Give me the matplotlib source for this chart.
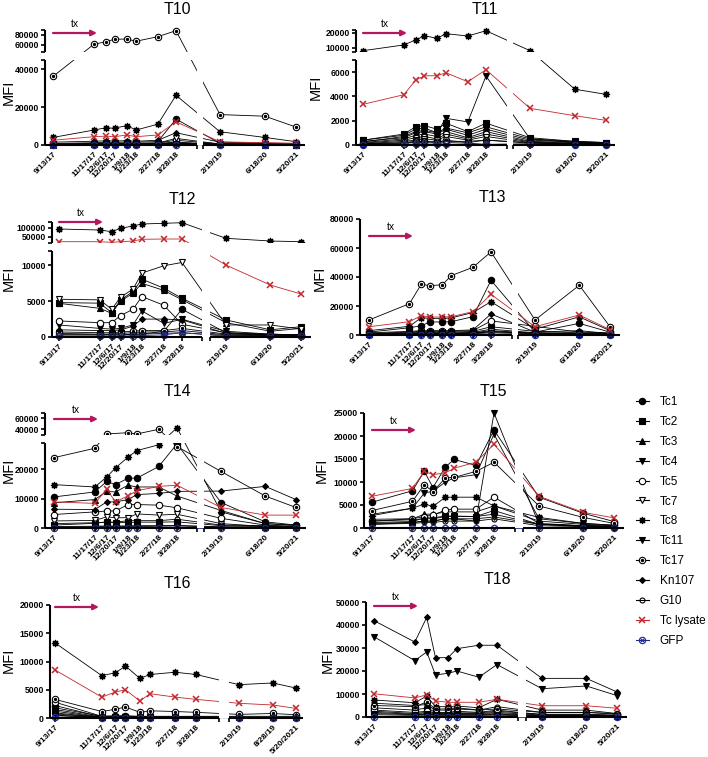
import numpy as np
import pandas as pd
import matplotlib
matplotlib.use('Agg')
import matplotlib.pyplot as plt
from matplotlib.lines import Line2D
from matplotlib.legend_handler import HandlerTuple

plt.rcParams['font.family'] = ['Liberation Sans', 'DejaVu Sans']

# sampling dates (x axis) and the tick labels
dates = ['9/13/17', '11/17/17', '12/6/17', '12/20/17', '1/9/18', '1/23/18',
         '2/27/18', '3/28/18', '2/19/19', '6/18/20', '5/20/21']
t16_labels = ['9/13/17', '11/17/17', '12/6/17', '12/20/17', '1/9/18', '1/23/18',
              '2/27/18', '3/28/18', '2/19/19', '8/28/19', '5/20/2021']

series = ['Tc1', 'Tc2', 'Tc3', 'Tc4', 'Tc5', 'Tc7', 'Tc8', 'Tc11', 'Tc17',
          'Kn107', 'G10', 'Tc lysate', 'GFP']

# MFI per series (rows in the order of `series`), one table per patient
t10 = [
    [800, 1200, 1500, 1400, 1600, 1500, 1800, 13700, 900, 700, 500],
    [300, 600, 700, 700, 800, 700, 900, 1500, 400, 300, 200],
    [200, 400, 500, 500, 500, 500, 600, 1200, 300, 200, 150],
    [150, 300, 400, 400, 400, 400, 500, 900, 250, 200, 150],
    [500, 800, 900, 900, 1000, 900, 1100, 2500, 600, 500, 400],
    [400, 700, 800, 800, 900, 800, 1000, 3500, 500, 400, 300],
    [4000, 7900, 9100, 8900, 10300, 7900, 11000, 26300, 7000, 4000, 1750],
    [100, 200, 300, 300, 300, 300, 400, 700, 200, 150, 100],
    [36300, 60700, 66000, 71000, 71600, 66900, 76300, 88600, 16100, 15250, 9500],
    [1500, 2000, 2200, 2100, 2300, 2000, 2500, 6500, 1500, 1000, 800],
    [300, 400, 500, 500, 500, 500, 600, 1000, 300, 200, 200],
    [2500, 4400, 4700, 4400, 5300, 4400, 5300, 12300, 1700, 1200, 900],
    [100, 100, 150, 150, 150, 150, 150, 200, 100, 100, 100],
]
t11 = [
    [100, 150, 200, 200, 150, 200, 150, 50, 100, 100, 100],
    [400, 900, 1500, 1600, 1300, 1800, 1100, 1800, 600, 300, 200],
    [300, 600, 1000, 1100, 900, 1300, 800, 1300, 400, 250, 150],
    [200, 500, 800, 900, 700, 1100, 600, 1100, 300, 200, 100],
    [150, 400, 600, 700, 500, 900, 500, 900, 250, 150, 100],
    [100, 300, 400, 500, 400, 700, 400, 700, 200, 100, 100],
    [7900, 11800, 15200, 18100, 16300, 19500, 17900, 21500, 7900, 4590, 4170],
    [400, 800, 1300, 1400, 1000, 2200, 1900, 5680, 500, 200, 150],
    [50, 100, 300, 300, 200, 400, 200, 400, 150, 100, 50],
    [250, 700, 1100, 1200, 1000, 1400, 1000, 1500, 500, 300, 200],
    [100, 200, 300, 300, 300, 300, 300, 400, 200, 100, 100],
    [3350, 4140, 5350, 5700, 5700, 5950, 5210, 6200, 3020, 2410, 2030],
    [30, 50, 50, 50, 50, 50, 50, 50, 50, 30, 30],
]
t12 = [
    [300, 300, 300, 300, 400, 400, 800, 3870, 600, 400, 300],
    [4800, 4720, 3400, 5180, 6340, 8070, 6810, 5410, 2380, 1000, 1440],
    [4700, 4000, 3300, 5000, 6100, 7500, 6500, 5200, 2000, 800, 1200],
    [1680, 1200, 1100, 1200, 1700, 3640, 1900, 2470, 800, 400, 300],
    [2240, 2000, 2000, 2980, 3870, 5640, 4430, 1770, 600, 300, 300],
    [5270, 5180, 3870, 5560, 6680, 8920, 9940, 10400, 1680, 1680, 1100],
    [94000, 88100, 78200, 98100, 111600, 123300, 127400, 130900, 39500, 23700, 19600],
    [500, 400, 400, 500, 600, 700, 700, 900, 300, 200, 200],
    [700, 600, 600, 700, 800, 900, 900, 1200, 400, 300, 200],
    [1000, 900, 900, 1000, 1500, 2500, 2500, 2400, 500, 300, 300],
    [300, 300, 300, 300, 400, 400, 500, 600, 200, 200, 100],
    [19600, 19600, 16100, 19600, 23700, 33700, 35400, 35400, 10040, 7250, 6000],
    [100, 100, 100, 100, 200, 200, 300, 600, 100, 100, 100],
]
t13 = [
    [2000, 5000, 6400, 9000, 9000, 9200, 12600, 37700, 2000, 8000, 2000],
    [800, 1500, 1800, 1800, 1800, 1800, 2500, 5700, 2500, 1500, 1000],
    [500, 1000, 1200, 1200, 1200, 1200, 1800, 4000, 1500, 1000, 800],
    [400, 800, 1000, 1000, 1000, 1000, 1500, 3000, 1200, 800, 600],
    [1000, 2000, 2500, 2500, 2500, 2500, 3000, 9700, 6000, 2000, 1500],
    [300, 600, 800, 800, 800, 800, 1200, 2500, 1000, 600, 400],
    [3000, 6000, 12000, 11500, 11500, 11800, 15500, 23000, 4000, 12500, 3000],
    [200, 400, 500, 500, 500, 500, 800, 1500, 800, 400, 300],
    [10350, 21600, 35000, 34000, 34700, 40900, 46700, 57300, 10350, 34300, 5700],
    [1500, 2500, 3000, 3000, 3000, 3000, 3500, 14500, 2000, 3000, 1000],
    [600, 1000, 1200, 1200, 1200, 1200, 1500, 2000, 1500, 800, 500],
    [5700, 9200, 13300, 12400, 12400, 12600, 16100, 28000, 5700, 13800, 3700],
    [100, 200, 200, 200, 200, 200, 300, 400, 300, 200, 100],
]
t14 = [
    [10600, 12300, 15900, 14800, 17000, 17000, 21000, 28700, 8700, 2100, 1000],
    [1000, 1600, 2100, 1800, 1900, 2000, 2000, 2100, 800, 500, 400],
    [8600, 9700, 12500, 12300, 14600, 14000, 14000, 10900, 6000, 1500, 800],
    [300, 400, 500, 500, 500, 500, 600, 700, 300, 200, 200],
    [4600, 5500, 5800, 5800, 8000, 8000, 7800, 6900, 3300, 1000, 500],
    [2400, 2600, 3800, 3500, 3500, 4800, 4400, 4700, 1500, 500, 300],
    [14800, 14000, 17400, 20500, 24200, 26400, 28400, 42600, 5500, 1500, 1000],
    [500, 600, 700, 700, 700, 800, 800, 900, 400, 300, 200],
    [24000, 27200, 31000, np.nan, 33300, 31000, 39600, 27800, 19300, 10900, 7000],
    [6400, 6300, 8900, 8900, 9700, 11400, 11800, 12500, 12600, 14200, 9700],
    [1500, 1800, 2000, 2000, 2500, 2500, 2500, 3000, 1000, 800, 500],
    [8900, 8400, 13200, 8900, 11000, 12700, 14200, 14600, 7000, 4400, 4400],
    [100, 100, 100, 100, 100, 100, 100, 100, 100, 100, 100],
]
t15 = [
    [5600, 8100, 12300, 8800, 13300, 14900, 13600, 21300, 6700, 3200, 1400],
    [1200, 1400, 2200, 2200, 2600, 2600, 2500, 3800, 800, 500, 400],
    [1900, 2000, 3000, 3000, 3500, 3500, 3500, 4800, 1500, 800, 500],
    [3000, 4300, 7600, 8000, 10000, 10900, 11600, 20400, 2000, 1000, 600],
    [1500, 2000, 2500, 2800, 3900, 4100, 4100, 6700, 1000, 500, 300],
    [1000, 1200, 1500, 1500, 2000, 2000, 2000, 2400, 800, 400, 300],
    [2700, 4300, 5200, 4700, 6700, 6700, 6700, 4800, 2300, 1000, 600],
    [800, 1200, 1500, 1500, 2000, 2000, 1500, 25000, 800, 400, 300],
    [3800, 5800, 9400, 7900, 10900, 11000, 12300, 14300, 4800, 2300, 1000],
    [1500, 1800, 2000, 2000, 2500, 2500, 2500, 3000, 800, 500, 400],
    [800, 1000, 1200, 1200, 1500, 1500, 1500, 2000, 500, 300, 200],
    [6900, 8600, 12300, 11600, 12000, 13000, 14300, 18200, 6900, 3400, 2200],
    [50, 50, 50, 50, 50, 50, 50, 50, 50, 50, 50],
]
t16 = [
    [2200, 200, 200, 200, 150, 150, 150, 150, 100, 100, 100],
    [1500, 150, 150, 150, 100, 100, 100, 100, 100, 100, 100],
    [1200, 100, 100, 100, 100, 100, 100, 100, 100, 100, 100],
    [900, 100, 100, 100, 100, 100, 100, 100, 80, 80, 80],
    [2800, 300, 300, 300, 250, 250, 250, 250, 200, 200, 200],
    [700, 150, 150, 150, 100, 100, 100, 100, 100, 100, 100],
    [13300, 7500, 8000, 9200, 7000, 7700, 8100, 7700, 5900, 6200, 5300],
    [500, 100, 100, 100, 80, 80, 80, 80, 80, 80, 80],
    [3300, 1150, 1550, 1950, 1000, 1270, 1150, 1000, 640, 800, 580],
    [1800, 300, 400, 400, 300, 300, 300, 300, 300, 300, 300],
    [400, 100, 100, 100, 100, 100, 100, 100, 100, 100, 100],
    [8500, 3700, 4600, 5000, 3000, 4300, 3700, 3300, 2600, 2300, 1700],
    [100, 50, 50, 50, 50, 50, 50, 50, 50, 50, 50],
]
t18 = [
    [4000, 3000, 4000, 2000, 2000, 2500, 2000, 3000, 1000, 1000, 700],
    [2500, 1500, 2000, 1500, 1500, 1500, 1500, 2000, 800, 800, 500],
    [2000, 1200, 1500, 1200, 1200, 1200, 1200, 1500, 600, 600, 400],
    [34900, 24500, 28300, 18300, 19000, 20000, 17300, 22800, 12300, 13500, 9300],
    [3000, 2000, 2500, 1800, 1800, 1800, 1800, 2500, 1200, 1200, 800],
    [1500, 1000, 1200, 1000, 1000, 1000, 1000, 1200, 500, 500, 400],
    [7400, 6200, 9100, 4500, 4500, 4800, 4000, 7700, 3000, 3000, 1500],
    [1000, 700, 800, 700, 700, 700, 700, 800, 400, 400, 300],
    [5000, 4500, 6500, 3500, 3500, 4000, 3000, 3500, 2000, 2000, 1200],
    [41900, 32600, 43300, 25800, 25800, 29700, 31200, 31200, 16800, 16800, 10900],
    [6000, 5000, 5400, 3000, 3000, 3500, 3000, 4500, 2000, 2000, 1500],
    [10100, 8300, 9600, 7000, 6400, 6400, 6400, 7700, 4900, 4900, 3800],
    [100, 100, 100, 100, 100, 100, 100, 100, 100, 100, 100],
]

W, H = 708, 757
RED = '#c1272d'
BLUE = '#1f2c8f'
ARROW = '#b3185e'

days = (pd.to_datetime(dates, format='%m/%d/%y') - pd.Timestamp('2017-09-13')).days.values.astype(float)

# marker style of each series
styles = {
    'Tc1': dict(marker='o', mfc='k', ms=4.6),
    'Tc2': dict(marker='s', mfc='k', ms=4.2),
    'Tc3': dict(marker='^', mfc='k', ms=4.6),
    'Tc4': dict(marker='v', mfc='k', ms=4.6),
    'Tc5': dict(marker='o', mfc='w', ms=4.6),
    'Tc7': dict(marker='v', mfc='w', ms=4.8),
    'Tc8': dict(marker=(8, 1, 0), mfc='k', ms=5),
    'Tc11': dict(marker='v', mfc='k', ms=4),
    'Tc17': dict(marker='o', mfc='w', ms=4.6),
    'Kn107': dict(marker='D', mfc='k', ms=3),
    'G10': dict(marker='o', mfc='none', ms=3.6),
    'Tc lysate': dict(marker='x', mfc=RED, ms=4.6, mew=1.1),
    'GFP': dict(marker='o', mfc='none', ms=4.6),
}


def color_of(name):
    if name == 'Tc lysate':
        return RED
    if name == 'GFP':
        return BLUE
    return 'k'


def piecewise(xp, fp):
    xp = np.asarray(xp, dtype=float)
    fp = np.asarray(fp, dtype=float)

    def f(v):
        v = np.asarray(v, dtype=float)
        out = np.interp(v, xp, fp)
        lo = fp[0] + (v - xp[0]) * (fp[1] - fp[0]) / (xp[1] - xp[0])
        hi = fp[-1] + (v - xp[-1]) * (fp[-1] - fp[-2]) / (xp[-1] - xp[-2])
        out = np.where(v < xp[0], lo, out)
        out = np.where(v > xp[-1], hi, out)
        return out
    return f


def draw_panel(fig, title, values, lay, xlabels):
    # x geometry in pixels: y axis, first date, 3/28/18, left end, right start, 2/19/19, 5/20/21, right end
    P0, first, m28, PL, PR, feb, may, PE = lay['x']
    bottom, top = lay['bottom'], lay['top']
    ax = fig.add_axes([P0 / W, 1 - bottom / H, (PE - P0) / W, (bottom - top) / H])

    s1 = (m28 - first) / (days[7] - days[0])
    s2 = (may - feb) / (days[10] - days[8])
    d0 = days[0] + (P0 - first) / s1
    dL = days[7] + (PL - m28) / s1
    dR = days[8] - (feb - PR) / s2
    dE = days[10] + (PE - may) / s2
    xd = [d0, dL, dR, dE]
    xp = [P0, PL, PR, PE]
    ax.set_xscale('function', functions=(piecewise(xd, xp), piecewise(xp, xd)))
    ax.set_xlim(d0, dE)

    if 'y1' in lay:
        y1, y2 = lay['y1'], lay['y2']
        eps = y1 * 1e-4
        yd = [0, y1, y1 + eps, y2]
        yp = [0, bottom - lay['main_top'], bottom - lay['seg_bot'], bottom - top]
        ax.set_yscale('function', functions=(piecewise(yd, yp), piecewise(yp, yd)))
        ax.set_ylim(0, y2)
    else:
        y2 = lay['ymax']
        ax.set_ylim(0, y2)

    vals = np.array(values, dtype=float)
    for name, row in zip(series, vals):
        m = np.isfinite(row)
        st = dict(styles[name])
        c = color_of(name)
        ax.plot(days[m], row[m], color=c, lw=0.6, mec=c, mew=st.pop('mew', 0.8),
                clip_on=False, zorder=2, **st)
        if name == 'Tc17':
            ax.plot(days[m], row[m], ls='none', marker='o', ms=1.4, color='k',
                    clip_on=False, zorder=2)
        if name == 'GFP':
            ax.plot(days[m], row[m], ls='none', marker='x', ms=3, mew=0.8, color=BLUE,
                    clip_on=False, zorder=2)

    # blank the breaks
    ax.axvspan(dL, dR, color='w', lw=0, zorder=4)
    if 'y1' in lay:
        ax.axhspan(y1, y1 + eps, color='w', lw=0, zorder=4)

    for s in ax.spines.values():
        s.set_visible(False)
    lk = dict(color='k', lw=1.5, clip_on=False, zorder=6, solid_capstyle='butt')
    ax.plot([d0, dL], [0, 0], transform=ax.get_xaxis_transform(), **lk)
    ax.plot([dR, dE], [0, 0], transform=ax.get_xaxis_transform(), **lk)
    if 'y1' in lay:
        ax.plot([0, 0], [0, y1], transform=ax.get_yaxis_transform(), **lk)
        ax.plot([0, 0], [y1 + eps, y2], transform=ax.get_yaxis_transform(), **lk)
        ax.set_yticks([y1, y1 + eps, y2], minor=True)
    else:
        ax.plot([0, 0], [0, y2], transform=ax.get_yaxis_transform(), **lk)

    ax.set_xticks(days)
    ax.set_xticklabels(xlabels, rotation=45, ha='right', va='top', rotation_mode='anchor',
                       fontsize=6, fontweight='bold')
    ax.set_xticks([dL, dR], minor=True)
    ax.set_yticks(lay['yticks'])
    ax.set_yticklabels([str(v) for v in lay['yticks']], fontsize=6.2, fontweight='bold')
    ax.tick_params(which='both', direction='out', length=3, width=1.2, pad=1.5)
    ax.tick_params(axis='x', pad=1)

    # title, y label and the treatment arrow
    tx, ty = lay['title']
    fig.text(tx / W, 1 - ty / H, title, ha='center', va='center', fontsize=11.5)
    mx, my = lay['mfi']
    fig.text(mx / W, 1 - my / H, 'MFI', rotation=90, ha='center', va='center', fontsize=10.5)
    ay = lay['arrow']
    ax.annotate('', xy=(first + 44, H - ay), xytext=(first, H - ay), xycoords='figure pixels',
                arrowprops=dict(arrowstyle='-|>', color=ARROW, lw=1.6, mutation_scale=8,
                                shrinkA=0, shrinkB=0))
    fig.text((first + 22) / W, 1 - (ay - 9) / H, 'tx', ha='center', va='center', fontsize=7.5)
    return ax


layouts = {
    'T10': dict(x=[45, 53, 176, 197, 203, 220, 296, 305], bottom=145, top=30, main_top=60,
                seg_bot=52, y1=45000, y2=90000, yticks=[0, 20000, 40000, 60000, 80000],
                title=(177, 10), mfi=(9, 92), arrow=33),
    'T11': dict(x=[356, 363, 486, 507, 513, 530, 606, 615], bottom=145, top=30, main_top=60,
                seg_bot=52, y1=7000, y2=22000, yticks=[0, 2000, 4000, 6000, 10000, 20000],
                title=(485, 10), mfi=(316, 87), arrow=33),
    'T12': dict(x=[52, 59, 182, 202, 210, 226, 301, 311], bottom=337, top=222, main_top=251,
                seg_bot=243, y1=12000, y2=135000, yticks=[0, 5000, 10000, 50000, 100000],
                title=(182, 200), mfi=(9, 278), arrow=222),
    'T13': dict(x=[360, 369, 491, 512, 518, 535, 610, 620], bottom=335, top=219, ymax=80000,
                yticks=[0, 20000, 40000, 60000, 80000],
                title=(492, 197), mfi=(320, 278), arrow=236),
    'T14': dict(x=[45, 54, 177, 197, 204, 221, 296, 306], bottom=528, top=413, main_top=443,
                seg_bot=435, y1=29000, y2=70000, yticks=[0, 10000, 20000, 40000, 60000],
                title=(177, 391), mfi=(9, 470), arrow=419),
    'T15': dict(x=[364, 372, 494, 515, 523, 539, 614, 624], bottom=528, top=413, ymax=25000,
                yticks=[0, 5000, 10000, 15000, 20000, 25000],
                title=(493, 391), mfi=(322, 470), arrow=430),
    'T16': dict(x=[50, 55, 196, 219, 229, 239, 296, 303], bottom=718, top=605, ymax=20000,
                yticks=[0, 5000, 10000, 15000, 20000],
                title=(177, 583), mfi=(9, 660), arrow=607),
    'T18': dict(x=[366, 374, 497, 518, 526, 542, 617, 627], bottom=717, top=602, ymax=50000,
                yticks=[0, 10000, 20000, 30000, 40000, 50000],
                title=(497, 580), mfi=(328, 660), arrow=606),
}
panels = [('T10', t10), ('T11', t11), ('T12', t12), ('T13', t13),
          ('T14', t14), ('T15', t15), ('T16', t16), ('T18', t18)]


def legend_handles():
    hs = []
    for name in series:
        st = dict(styles[name])
        c = color_of(name)
        h = Line2D([], [], color=c, lw=0.8, mec=c, mew=st.pop('mew', 0.8), **st)
        if name == 'Tc17':
            h = (h, Line2D([], [], ls='none', marker='o', ms=1.4, color='k'))
        if name == 'GFP':
            h = (h, Line2D([], [], ls='none', marker='x', ms=3, mew=0.8, color=BLUE))
        hs.append(h)
    return hs


def main():
    fig = plt.figure(figsize=(W / 100, H / 100), dpi=100)
    for name, vals in panels:
        labels = t16_labels if name == 'T16' else dates
        draw_panel(fig, name, vals, layouts[name], labels)
    fig.legend(legend_handles(), series, loc='upper left',
               bbox_to_anchor=(636 / W, 1 - 396 / H), frameon=False, fontsize=8.5,
               handlelength=1.1, handletextpad=0.9, labelspacing=0.67,
               borderaxespad=0, borderpad=0,
               handler_map={tuple: HandlerTuple(ndivide=1, pad=0)})
    fig.savefig('out.png', dpi=100)


if __name__ == "__main__":
    main()
